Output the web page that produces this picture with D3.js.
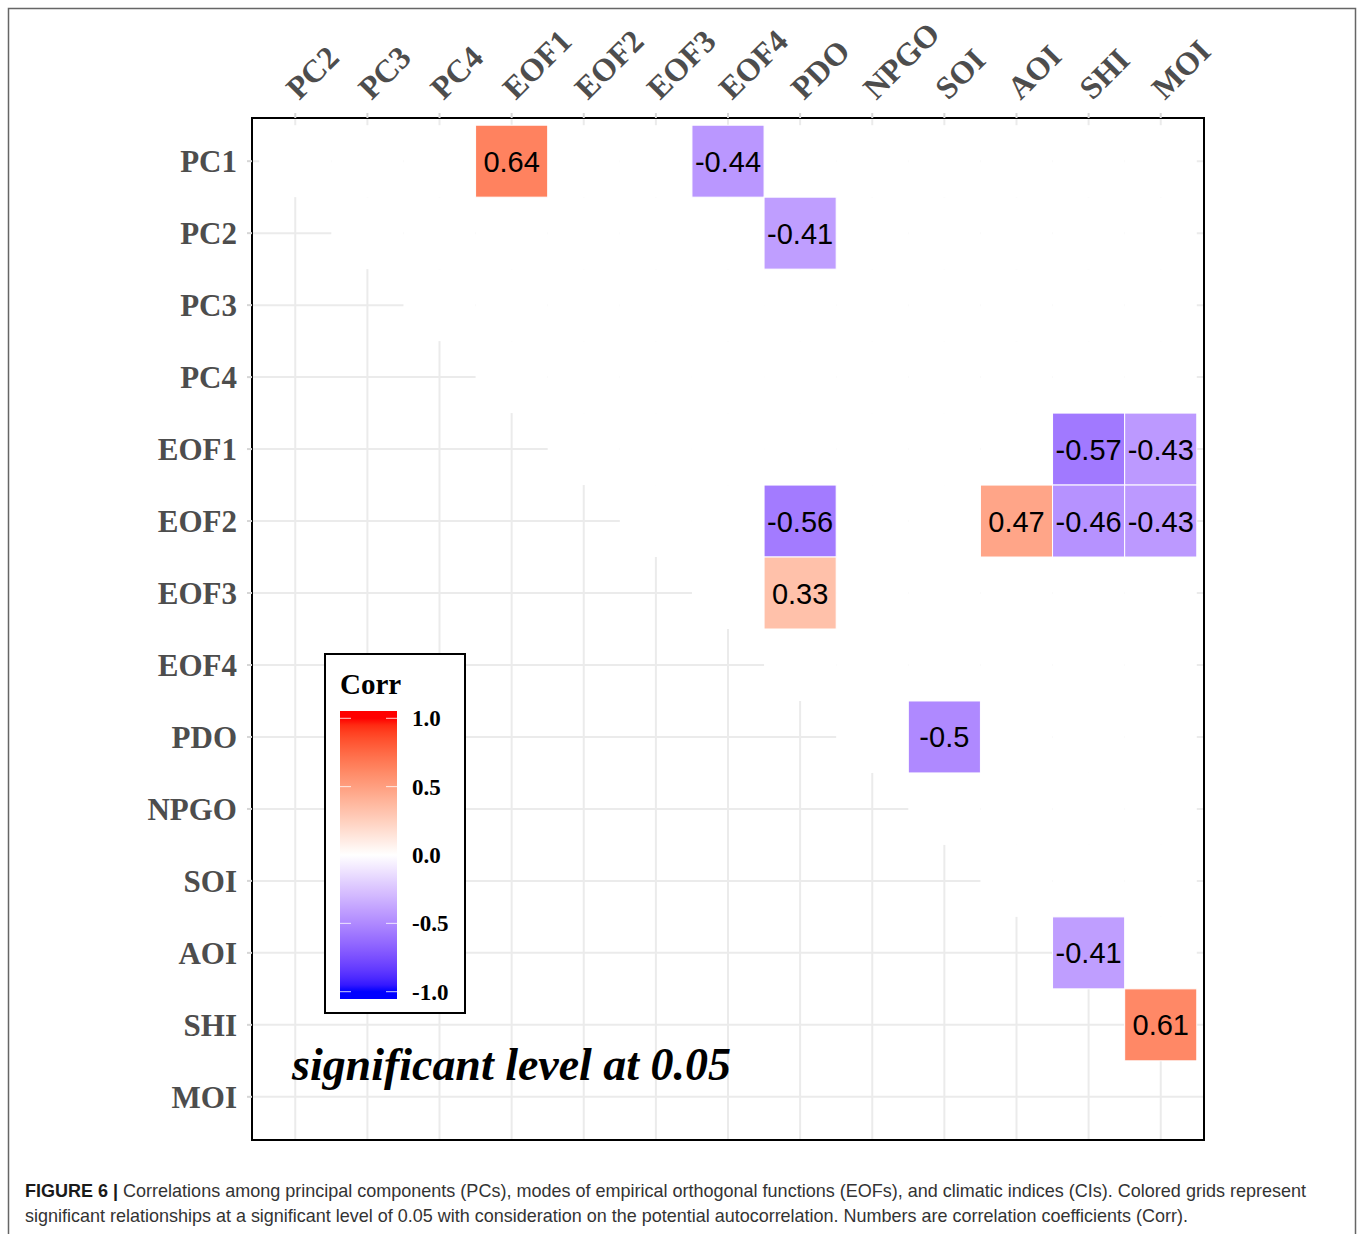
<!DOCTYPE html>
<html><head><meta charset="utf-8">
<script src="https://cdn.jsdelivr.net/npm/d3@7"></script>
<style>body{margin:0;background:#fff}</style></head>
<body>
<svg id="chart" width="1360" height="1234"></svg>
<script>
// ---- data ----
const rowVars = ["PC1","PC2","PC3","PC4","EOF1","EOF2","EOF3","EOF4","PDO","NPGO","SOI","AOI","SHI","MOI"];
const colVars = ["PC2","PC3","PC4","EOF1","EOF2","EOF3","EOF4","PDO","NPGO","SOI","AOI","SHI","MOI"];
const sigRow  = ["PC1","PC1","PC2","EOF1","EOF1","EOF2","EOF2","EOF2","EOF2","EOF3","PDO","AOI","SHI"];
const sigCol  = ["EOF1","EOF4","PDO","SHI","MOI","PDO","AOI","SHI","MOI","PDO","SOI","SHI","MOI"];
const sigCorr = [0.64,-0.44,-0.41,-0.57,-0.43,-0.56,0.47,-0.46,-0.43,0.33,-0.5,-0.41,0.61];
const legendTicks = [1.0,0.5,0.0,-0.5,-1.0];
const legendTickLabels = ["1.0","0.5","0.0","-0.5","-1.0"];
const legendTitle = "Corr";
const noteText = "significant level at 0.05";
const captionBold = "FIGURE 6 |";
const captionLine1 = " Correlations among principal components (PCs), modes of empirical orthogonal functions (EOFs), and climatic indices (CIs). Colored grids represent";
const captionLine2 = "significant relationships at a significant level of 0.05 with consideration on the potential autocorrelation. Numbers are correlation coefficients (Corr).";

// ---- layout ----
const svg = d3.select("#chart");
const L = 252, R = 1204, T = 118, B = 1140;
const ux = (R - L) / 13.2, uy = (B - T) / 14.2;
const x = d3.scaleBand().domain(colVars).range([L + 0.1*ux, R - 0.1*ux]).padding(0);
const y = d3.scaleBand().domain(rowVars).range([T + 0.1*uy, B - 0.1*uy]).padding(0);
const color = d3.scaleLinear().domain([-1,0,1]).range(["blue","white","red"]).interpolate(d3.interpolateLab);
const serif = "'Liberation Serif','Times New Roman',serif";
const sans = "'Liberation Sans',Arial,sans-serif";
const narrow = "'Liberation Sans Narrow','Liberation Sans',Arial,sans-serif";

// outer frame
svg.append("path").attr("d", "M8.5,1240V8.5H1355.5V1240").attr("fill","none").attr("stroke","#666").attr("stroke-width",1.5);

// gridlines
const g = svg.append("g");
g.selectAll(".vg").data(colVars).join("line")
  .attr("x1", d => x(d) + x.bandwidth()/2).attr("x2", d => x(d) + x.bandwidth()/2)
  .attr("y1", T).attr("y2", B).attr("stroke","#EBEBEB").attr("stroke-width",2);
g.selectAll(".hg").data(rowVars).join("line")
  .attr("y1", d => y(d) + y.bandwidth()/2).attr("y2", d => y(d) + y.bandwidth()/2)
  .attr("x1", L).attr("x2", R).attr("stroke","#EBEBEB").attr("stroke-width",2);

// white tiles on upper triangle (non-significant)
const upper = [];
rowVars.forEach((r, ri) => colVars.forEach(c => { if (rowVars.indexOf(c) > ri) upper.push({r, c}); }));
g.selectAll(".wt").data(upper).join("rect")
  .attr("x", d => x(d.c)).attr("y", d => y(d.r))
  .attr("width", x.bandwidth()).attr("height", y.bandwidth())
  .attr("fill","white");

// significant tiles
const sig = sigCorr.map((v, i) => ({r: sigRow[i], c: sigCol[i], v}));
g.selectAll(".st").data(sig).join("rect")
  .attr("x", d => x(d.c)).attr("y", d => y(d.r))
  .attr("width", x.bandwidth()).attr("height", y.bandwidth())
  .attr("fill", d => color(d.v)).attr("stroke","white").attr("stroke-width",1);
g.selectAll(".sl").data(sig).join("text")
  .attr("x", d => x(d.c) + x.bandwidth()/2).attr("y", d => y(d.r) + y.bandwidth()/2 + 10.5)
  .attr("text-anchor","middle").attr("font-family", sans).attr("font-size", 29).attr("fill","black")
  .text(d => String(d.v));

// panel border
svg.append("rect").attr("x", L).attr("y", T).attr("width", R-L).attr("height", B-T)
  .attr("fill","none").attr("stroke","black").attr("stroke-width",2);

// axes
const ay = svg.append("g").attr("transform", `translate(${L},0)`)
  .call(d3.axisLeft(y).tickSize(5).tickPadding(10));
ay.select(".domain").remove();
ay.selectAll(".tick line").attr("stroke","#D6D6D6").attr("stroke-width",2);
ay.selectAll(".tick text").attr("font-family", serif).attr("font-weight","bold").attr("font-size",31)
  .attr("fill","#4D4D4D").attr("dy","0.35em");

const ax = svg.append("g").attr("transform", `translate(0,${T})`)
  .call(d3.axisTop(x).tickSize(5));
ax.select(".domain").remove();
ax.selectAll(".tick line").attr("stroke","#D6D6D6").attr("stroke-width",2);
ax.selectAll(".tick text").attr("font-family", serif).attr("font-weight","bold").attr("font-size",32)
  .attr("fill","#4D4D4D").attr("x",0).attr("y",0).attr("dy",0).attr("text-anchor","start")
  .attr("transform","translate(4,-17) rotate(-45)");

// legend
const lg = svg.append("g");
lg.append("rect").attr("x",325).attr("y",654).attr("width",140).attr("height",359)
  .attr("fill","white").attr("stroke","black").attr("stroke-width",2);
lg.append("text").attr("x",340).attr("y",694).attr("font-family",serif).attr("font-weight","bold")
  .attr("font-size",29).attr("fill","black").text(legendTitle);
const barTop = 711, barBot = 999, barX = 340, barW = 57;
const legY = d3.scaleLinear().domain([1,-1]).range([718.3, 991.7]);
const defs = svg.append("defs");
const grad = defs.append("linearGradient").attr("id","cbar").attr("x1",0).attr("x2",0).attr("y1",0).attr("y2",1);
const stopVals = d3.range(20, -21, -1).map(k => k/20);
grad.append("stop").attr("offset",0).attr("stop-color", color(1));
stopVals.forEach(v => grad.append("stop")
  .attr("offset", (legY(v) - barTop)/(barBot - barTop)).attr("stop-color", color(v)));
grad.append("stop").attr("offset",1).attr("stop-color", color(-1));
lg.append("rect").attr("x",barX).attr("y",barTop).attr("width",barW).attr("height",barBot-barTop).attr("fill","url(#cbar)");
legendTicks.forEach((v, i) => {
  lg.append("line").attr("x1",barX).attr("x2",barX+11).attr("y1",legY(v)).attr("y2",legY(v)).attr("stroke","white").attr("stroke-opacity",0.8);
  lg.append("line").attr("x1",barX+barW-11).attr("x2",barX+barW).attr("y1",legY(v)).attr("y2",legY(v)).attr("stroke","white").attr("stroke-opacity",0.8);
  lg.append("text").attr("x",412).attr("y",legY(v)+8).attr("font-family",serif).attr("font-weight","bold")
    .attr("font-size",23).attr("fill","black").text(legendTickLabels[i]);
});

// note
svg.append("text").attr("x",292).attr("y",1080).attr("font-family",serif).attr("font-weight","bold")
  .attr("font-style","italic").attr("font-size",46).attr("fill","black")
  .attr("textLength",439).attr("lengthAdjust","spacingAndGlyphs").text(noteText);

// caption
const c1 = svg.append("text").attr("x",25).attr("y",1197).attr("font-family",narrow).attr("font-size",18.5)
  .attr("fill","#333").attr("textLength",1281).attr("lengthAdjust","spacingAndGlyphs");
c1.append("tspan").attr("font-weight","bold").attr("fill","#1a1a1a").text(captionBold);
c1.append("tspan").text(captionLine1);
svg.append("text").attr("x",25).attr("y",1222).attr("font-family",narrow).attr("font-size",18.5)
  .attr("fill","#333").attr("textLength",1163).attr("lengthAdjust","spacingAndGlyphs").text(captionLine2);
</script>
</body></html>
